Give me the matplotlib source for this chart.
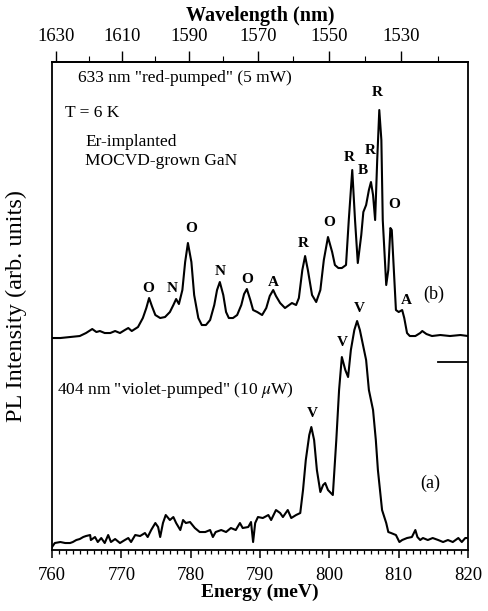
import matplotlib
matplotlib.use("Agg")
import matplotlib.pyplot as plt
from matplotlib.ticker import MultipleLocator, FixedLocator, NullFormatter

plt.rcParams['font.family'] = ['Liberation Serif', 'DejaVu Serif']
plt.rcParams['mathtext.fontset'] = 'stix'

# ---- data (energy in meV, intensity in arb. units) ----
energy_b = [760.0, 761.2, 762.6, 764.0, 764.9, 765.8, 766.4, 766.9, 767.6, 768.4,
            769.1, 769.8, 770.5, 771.0, 771.5, 772.4, 773.1, 773.6, 774.0, 774.4,
            774.9, 775.6, 776.3, 777.0, 777.5, 777.9, 778.3, 778.8, 779.2, 779.6,
            780.1, 780.5, 781.1, 781.6, 782.2, 782.8, 783.4, 783.8, 784.2, 784.7,
            785.1, 785.5, 786.1, 786.7, 787.3, 787.7, 788.1, 788.6, 789.0, 789.6,
            790.3, 790.9, 791.4, 791.9, 792.3, 792.9, 793.6, 794.2, 794.6, 795.2,
            795.6, 796.1, 796.5, 796.9, 797.5, 798.1, 798.7, 799.2, 799.8, 800.4,
            800.8, 801.3, 801.8, 802.4, 802.8, 803.3, 803.7, 804.1, 804.6, 804.9,
            805.3, 805.7, 806.0, 806.3, 806.6, 806.9, 807.2, 807.5, 807.7, 808.2,
            808.5, 808.8, 809.0, 809.3, 809.6, 810.0, 810.5, 810.8, 811.2, 811.6,
            812.4, 813.1, 813.4, 814.0, 814.8, 816.0, 817.4, 818.9, 820.0]
intensity_b = [212, 212, 213, 214, 217, 221, 218, 219, 217, 217,
               219, 217, 220, 222, 219, 223, 232, 242, 252, 244,
               235, 232, 233, 238, 245, 251, 246, 260, 288, 307,
               288, 255, 232, 225, 225, 230, 245, 260, 268, 255,
               238, 232, 232, 235, 245, 256, 261, 250, 240, 238,
               235, 242, 254, 260, 254, 247, 242, 245, 247, 245,
               252, 280, 294, 280, 255, 248, 260, 290, 313, 298,
               285, 282, 282, 285, 330, 380, 330, 287, 315, 338,
               345, 360, 368, 355, 330, 390, 440, 410, 330, 265,
               280, 322, 320, 280, 240, 238, 240, 232, 217, 214,
               214, 217, 219, 216, 214, 215, 214, 215, 214]

energy_a = [760.0, 760.4, 761.2, 761.9, 762.6, 763.0, 763.5, 764.0, 764.5, 764.9,
            765.5, 765.6, 766.2, 766.6, 767.1, 767.6, 768.1, 768.5, 769.1, 769.8,
            770.5, 771.0, 771.4, 772.0, 772.7, 773.4, 773.8, 774.3, 774.9, 775.3,
            775.6, 776.0, 776.4, 777.0, 777.5, 777.9, 778.5, 778.9, 779.3, 779.9,
            780.6, 781.3, 782.1, 782.8, 783.2, 783.6, 784.4, 785.1, 785.8, 786.5,
            787.1, 787.5, 788.3, 788.7, 789.0, 789.3, 789.7, 790.4, 791.2, 791.6,
            792.3, 792.9, 793.3, 794.0, 794.5, 795.2, 795.8, 796.2, 796.6, 797.1,
            797.4, 797.8, 798.2, 798.7, 799.1, 799.4, 799.8, 800.5, 801.0, 801.4,
            801.8, 802.3, 802.7, 803.1, 803.6, 804.0, 804.4, 804.7, 805.3, 805.7,
            806.3, 806.7, 807.0, 807.3, 807.6, 808.2, 808.5, 808.9, 809.6, 810.1,
            810.5, 811.2, 811.9, 812.4, 812.7, 813.1, 813.5, 814.2, 814.9, 815.7,
            816.4, 817.1, 817.8, 818.6, 819.1, 819.6, 820.0]
intensity_a = [3, 7, 8, 7, 7, 8, 10, 11, 13, 14,
               15, 10, 13, 8, 12, 7, 15, 8, 11, 7,
               10, 12, 8, 15, 14, 17, 13, 20, 27, 23,
               13, 27, 35, 30, 33, 27, 20, 30, 27, 28,
               22, 18, 18, 20, 13, 18, 20, 18, 22, 20,
               27, 22, 23, 28, 8, 27, 33, 32, 35, 30,
               40, 37, 33, 40, 32, 35, 37, 60, 90, 115,
               123, 110, 80, 58, 65, 67, 60, 55, 110, 160,
               193, 180, 173, 200, 220, 229, 220, 210, 190, 160,
               140, 110, 80, 60, 40, 27, 18, 17, 15, 8,
               10, 12, 13, 20, 13, 10, 12, 10, 12, 10,
               8, 10, 8, 12, 8, 12, 12]

peak_labels_b = ["O", "N", "O", "N", "O", "A", "R", "O", "R", "B", "R", "R", "O", "A"]
peak_label_E_b = [773.85, 777.3, 780.05, 784.2, 788.1, 791.9, 796.3, 799.95,
                  802.8, 804.9, 805.9, 806.9, 809.3, 811.1]
peak_label_I_b = [262, 262, 322, 279, 271, 268, 307, 328, 393, 380, 400, 458, 346, 250]

peak_labels_a = ["V", "V", "V"]
peak_label_E_a = [797.5, 801.8, 804.3]
peak_label_I_a = [137, 208, 242]

scale_bar_E = [815.7, 820.0]
scale_bar_I = [188, 188]

wl_major = [1630, 1610, 1590, 1570, 1550, 1530]
wl_minor = [1620, 1600, 1580, 1560, 1540, 1520]

HC = 1239841.98  # meV*nm

# ---- figure ----
fig = plt.figure(figsize=(4.88, 6.11), dpi=100)
ax = fig.add_axes([0.1066, 0.0998, 0.8525, 0.7987])

ax.plot(energy_b, intensity_b, color='black', lw=1.5, solid_joinstyle='round')
ax.plot(energy_a, intensity_a, color='black', lw=1.5, solid_joinstyle='round')
ax.plot(scale_bar_E, scale_bar_I, color='black', lw=1.3)

ax.set_xlim(760, 820)
ax.set_ylim(0, 488)

for s in ax.spines.values():
    s.set_linewidth(1.3)

ax.xaxis.set_major_locator(MultipleLocator(10))
ax.xaxis.set_minor_locator(MultipleLocator(1))
ax.tick_params(axis='x', which='major', direction='out', length=6, width=1.1,
               labelsize=13.5, pad=6)
ax.tick_params(axis='x', which='minor', direction='out', length=3, width=0.9)
ax.set_yticks([])

ax.set_xlabel("Energy (meV)", fontsize=14, fontweight='bold', labelpad=0)
ax.set_ylabel("PL Intensity (arb. units)", fontsize=17.5, labelpad=18)

sec = ax.secondary_xaxis('top', functions=(lambda e: HC / e, lambda w: HC / w))
sec.xaxis.set_major_locator(FixedLocator(wl_major))
sec.xaxis.set_minor_locator(FixedLocator(wl_minor))
sec.xaxis.set_minor_formatter(NullFormatter())
sec.tick_params(axis='x', which='major', direction='out', length=8, width=1.0,
                labelsize=13.5, pad=4)
sec.tick_params(axis='x', which='minor', direction='out', length=4, width=0.8)
sec.spines['top'].set_linewidth(1.3)
sec.set_xlabel("Wavelength (nm)", fontsize=14.5, fontweight='bold', labelpad=5)

# annotations
ax.text(763.75, 472, '633 nm "red-pumped" (5 mW)', fontsize=12.5, va='center', ha='left')
ax.text(761.9, 437, 'T = 6 K', fontsize=12.5, va='center', ha='left')
ax.text(764.8, 408, 'Er-implanted', fontsize=12.5, va='center', ha='left')
ax.text(764.8, 389, 'MOCVD-grown GaN', fontsize=12.5, va='center', ha='left')
ax.text(760.7, 160, '404 nm "violet-pumped" (10 $\\mu$W)', fontsize=12.5, va='center', ha='left')
ax.text(814.5, 67, '(a)', fontsize=13, va='center', ha='center')
ax.text(815.0, 256, '(b)', fontsize=13, va='center', ha='center')

for lab, e, i in zip(peak_labels_b, peak_label_E_b, peak_label_I_b):
    ax.text(e, i, lab, fontsize=11, fontweight='bold', ha='center', va='center')
for lab, e, i in zip(peak_labels_a, peak_label_E_a, peak_label_I_a):
    ax.text(e, i, lab, fontsize=11, fontweight='bold', ha='center', va='center')

fig.savefig("out.png", dpi=100)
